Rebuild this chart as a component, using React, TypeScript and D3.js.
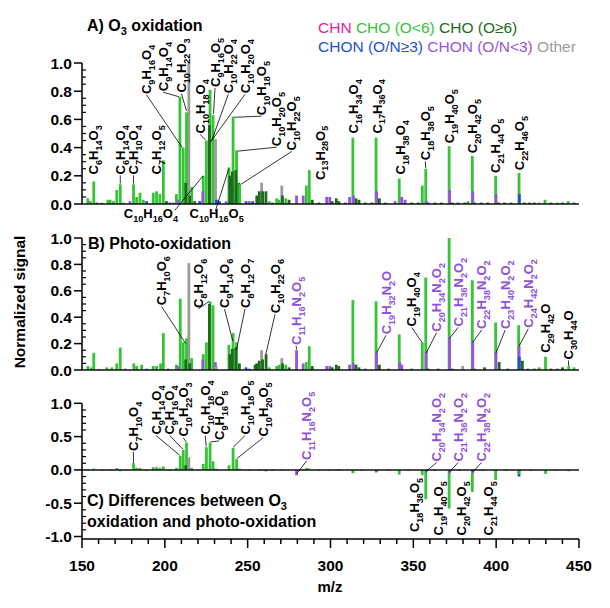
import React, { useEffect, useRef } from 'react';
import * as d3 from 'd3';

type Peak = [number, number, string];
type Label = { f: string; x: number; y: number; to?: [number, number]; from?: [number, number]; c?: string; dir?: string };

const classKeys = ['CHN', 'CHO1', 'CHO2', 'CHON1', 'CHON2', 'Other'];
const classNames = ['CHN', 'CHO (O<6)', 'CHO (O≥6)', 'CHON (O/N≥3)', 'CHON (O/N<3)', 'Other'];
const classColors = ['#e2239a', '#35c435', '#1d6b1d', '#2350d0', '#9a52e0', '#9b9b9b'];

// [m/z, normalized signal, class]
const peaksA: Peak[] = [
  [153.5, 0.04, 'CHO1'], [155, 0.02, 'CHO1'], [157.1, 0.16, 'CHO1'], [159, 0.01, 'CHO2'], [162, 0.008, 'CHON1'],
  [165.7, 0.03, 'CHO1'], [167, 0.03, 'CHO1'], [169, 0.02, 'CHO1'], [171, 0.10, 'CHO1'], [173.1, 0.14, 'CHO1'], [175, 0.01, 'Other'],
  [179, 0.02, 'CHON2'], [181.1, 0.14, 'CHO1'], [183, 0.05, 'CHO1'], [185, 0.08, 'CHO1'], [187, 0.03, 'CHO1'], [189, 0.02, 'CHON1'],
  [193, 0.08, 'CHO1'], [195, 0.09, 'CHO1'], [197, 0.07, 'CHO1'], [199.1, 0.31, 'CHO1'], [201, 0.02, 'CHO2'], [203, 0.01, 'CHON1'],
  [205, 0.01, 'CHON2'], [207, 0.07, 'CHO1'], [208, 0.03, 'CHON2'], [209.1, 0.76, 'CHO1'], [211.1, 0.40, 'CHO1'], [212.6, 0.15, 'CHO2'],
  [213.1, 0.65, 'CHO1'], [214.5, 1.0, 'Other'], [215, 0.06, 'CHO2'], [216.2, 0.12, 'CHO1'], [218, 0.02, 'CHO2'],
  [221, 0.02, 'CHON1'], [222.9, 0.09, 'CHON2'], [223.2, 0.20, 'CHO1'], [225.1, 0.45, 'CHO1'], [226.9, 0.56, 'CHO2'], [227.3, 0.81, 'CHO1'],
  [229.1, 0.63, 'CHO1'], [230.6, 0.46, 'Other'], [231.2, 0.03, 'CHON1'], [233, 0.02, 'CHON1'],
  [237, 0.02, 'CHON2'], [238.7, 0.26, 'CHO1'], [239.2, 0.20, 'CHO2'], [240.7, 0.23, 'CHO2'], [241.2, 0.62, 'CHO1'], [242.8, 0.24, 'CHO2'],
  [243.3, 0.38, 'CHO1'], [244.7, 0.15, 'CHO2'], [245.2, 0.14, 'CHO1'],
  [249, 0.02, 'CHON1'], [251, 0.02, 'CHON2'], [253, 0.02, 'CHON1'],
  [255.5, 0.06, 'CHO2'], [257, 0.09, 'CHO2'], [258.4, 0.15, 'Other'], [259, 0.09, 'CHO2'], [261, 0.09, 'CHO2'], [263, 0.02, 'CHO1'],
  [265, 0.01, 'CHON1'], [267.5, 0.04, 'CHO1'], [269, 0.03, 'CHO1'], [270.6, 0.13, 'Other'], [271, 0.06, 'CHO2'], [273, 0.04, 'CHO1'], [275, 0.03, 'CHO2'],
  [279.5, 0.06, 'CHON2'], [283.5, 0.06, 'CHON2'], [285.4, 0.13, 'CHO1'], [287.2, 0.24, 'CHO1'], [289, 0.03, 'CHO2'],
  [293, 0.01, 'CHO2'], [297.7, 0.05, 'CHON2'], [299.6, 0.05, 'CHON2'], [301, 0.02, 'CHO2'], [303.5, 0.04, 'CHO2'], [305, 0.02, 'CHO2'],
  [309, 0.01, 'CHON1'], [311.5, 0.05, 'CHON2'], [313.5, 0.47, 'CHO1'], [313.8, 0.06, 'CHON2'], [315.4, 0.04, 'CHO2'], [317.2, 0.03, 'CHO2'],
  [321, 0.01, 'CHO2'], [325, 0.01, 'CHO2'], [327.5, 0.47, 'CHO1'], [327.8, 0.09, 'CHON2'], [329.5, 0.04, 'CHO2'], [333, 0.01, 'CHON1'],
  [339, 0.02, 'CHON2'], [341.5, 0.18, 'CHO1'], [343, 0.05, 'CHON2'], [345, 0.03, 'CHON2'], [349, 0.01, 'CHO2'],
  [353, 0.01, 'CHO2'], [355.4, 0.13, 'CHO1'], [357.5, 0.25, 'CHO1'], [357.8, 0.02, 'CHON2'], [359, 0.01, 'CHON1'], [363, 0.01, 'CHO2'],
  [367, 0.01, 'CHO2'], [371.6, 0.41, 'CHO1'], [371.9, 0.10, 'CHON2'], [373.5, 0.01, 'CHO2'], [377, 0.01, 'CHON1'],
  [381, 0.01, 'CHO2'], [383, 0.02, 'CHO1'], [385.6, 0.34, 'CHO1'], [385.9, 0.09, 'CHON2'], [387, 0.01, 'CHO2'], [391, 0.01, 'CHON1'],
  [395, 0.01, 'CHO2'], [399.7, 0.20, 'CHO1'], [399.9, 0.07, 'CHON2'], [401.5, 0.01, 'CHO2'], [405, 0.01, 'CHO2'],
  [409, 0.01, 'CHO2'], [413.8, 0.22, 'CHO1'], [414, 0.07, 'CHON1'], [417, 0.01, 'CHO2'],
  [420, 0.01, 'CHO2'], [423, 0.01, 'CHO2'], [426, 0.01, 'CHO1'], [429.5, 0.03, 'CHO1'], [433, 0.01, 'CHO2'], [437, 0.01, 'CHO1'],
  [440, 0.01, 'CHO2'], [443.5, 0.02, 'CHO1'], [447, 0.01, 'CHO2'],
];

const peaksB: Peak[] = [
  [153.5, 0.03, 'CHO1'], [155.5, 0.02, 'CHO1'], [157.1, 0.13, 'CHO1'], [160, 0.008, 'CHON1'],
  [165, 0.02, 'CHO1'], [168, 0.02, 'CHO1'], [171, 0.05, 'CHO1'], [173.1, 0.17, 'CHO1'], [176, 0.01, 'CHON2'],
  [181.3, 0.05, 'CHO1'], [183, 0.03, 'CHO1'], [186, 0.04, 'CHO1'], [189, 0.01, 'CHON1'],
  [193, 0.03, 'CHO1'], [195, 0.03, 'CHO1'], [197.5, 0.05, 'CHO1'], [199.1, 0.28, 'CHO1'], [202, 0.01, 'CHO2'],
  [207, 0.04, 'CHO1'], [208, 0.03, 'CHON2'], [209.3, 0.54, 'CHO1'], [211.1, 0.21, 'CHO1'], [212.6, 0.08, 'CHO2'], [213.1, 0.24, 'CHO1'],
  [214.5, 0.81, 'Other'], [215, 0.05, 'CHO2'], [216.2, 0.09, 'CHO1'],
  [222.9, 0.08, 'CHON2'], [223.2, 0.12, 'CHO1'], [225.1, 0.21, 'CHO1'], [226.9, 0.50, 'CHO2'], [227.3, 0.52, 'CHO1'], [229.1, 0.49, 'CHO1'],
  [230.5, 0.06, 'CHON2'], [231, 0.03, 'Other'],
  [238.7, 0.19, 'CHO1'], [239.2, 0.12, 'CHO2'], [240.7, 0.16, 'CHO2'], [241.2, 0.28, 'CHO1'], [242.8, 0.17, 'CHO2'], [243.3, 0.21, 'CHO1'], [245, 0.05, 'CHO2'],
  [249, 0.02, 'CHON1'], [251, 0.01, 'CHON2'],
  [254.5, 0.04, 'CHO2'], [255.5, 0.05, 'CHO2'], [257, 0.07, 'CHO2'], [258.4, 0.15, 'Other'], [259, 0.08, 'CHO2'], [261.1, 0.12, 'CHO2'], [263, 0.02, 'CHO1'],
  [267.5, 0.03, 'CHO1'], [269, 0.04, 'CHO1'], [270.6, 0.09, 'Other'], [271, 0.05, 'CHO2'], [273, 0.04, 'CHO1'], [275, 0.02, 'CHO2'],
  [279.5, 0.15, 'CHON2'], [283.5, 0.05, 'CHON2'], [285.4, 0.06, 'CHO1'], [287.2, 0.18, 'CHO1'], [289, 0.03, 'CHO2'],
  [297.7, 0.03, 'CHON2'], [299.6, 0.03, 'CHON2'], [301, 0.02, 'CHO2'], [303.5, 0.04, 'CHO2'], [305, 0.03, 'CHO2'],
  [311.5, 0.04, 'CHON2'], [313.5, 0.53, 'CHO1'], [313.8, 0.05, 'CHON2'], [315.4, 0.04, 'CHO2'], [317.2, 0.02, 'CHO2'], [321, 0.01, 'CHON1'],
  [327.5, 0.52, 'CHO1'], [327.8, 0.13, 'CHON2'], [329.5, 0.04, 'CHO2'], [335, 0.01, 'CHO2'],
  [341.5, 0.27, 'CHO1'], [341.8, 0.06, 'CHON2'], [343, 0.04, 'CHON2'], [349, 0.01, 'CHON1'],
  [355.4, 0.21, 'CHO1'], [357.5, 0.70, 'CHO1'], [357.8, 0.14, 'CHON2'], [359, 0.01, 'CHO2'],
  [365, 0.01, 'CHO2'], [371.6, 1.0, 'CHO1'], [371.9, 0.25, 'CHON2'], [373.5, 0.01, 'CHO2'],
  [379.8, 0.03, 'Other'], [385.6, 0.68, 'CHO1'], [385.9, 0.22, 'CHON2'], [387, 0.01, 'CHO2'],
  [393, 0.02, 'CHO2'], [399.7, 0.36, 'CHO1'], [399.9, 0.14, 'CHON2'], [401.8, 0.06, 'CHO2'], [407, 0.01, 'CHO2'],
  [413.6, 0.34, 'CHO1'], [413.8, 0.18, 'CHON2'], [414, 0.10, 'CHON1'], [415.8, 0.07, 'CHO2'], [419, 0.01, 'CHON1'],
  [423, 0.01, 'CHO2'], [426, 0.02, 'CHO1'], [429.8, 0.10, 'CHO1'], [433, 0.01, 'CHO2'], [437, 0.01, 'CHO2'],
  [440, 0.02, 'CHO2'], [443.8, 0.03, 'CHO1'], [447, 0.02, 'CHO1'],
];

const peaksC: Peak[] = [
  [153.5, 0.01, 'CHO1'], [157.1, 0.02, 'CHO1'], [162, -0.01, 'CHON1'], [167, 0.01, 'CHO1'], [171, 0.03, 'CHO1'], [173.1, -0.02, 'CHO1'],
  [177, 0.01, 'Other'], [181.1, 0.10, 'CHO1'], [183, 0.03, 'CHO1'], [185, 0.03, 'CHO1'], [189, -0.01, 'CHON2'],
  [193, 0.04, 'CHO1'], [195, 0.04, 'CHO1'], [197, 0.03, 'CHO1'], [199.1, 0.05, 'CHO1'], [203, -0.01, 'CHON1'],
  [207, 0.03, 'CHO1'], [209.3, 0.21, 'CHO1'], [211.1, 0.30, 'CHO1'], [212.6, 0.07, 'CHO2'], [213.1, 0.41, 'CHO1'], [214.5, 0.19, 'Other'], [216.2, 0.03, 'CHO1'],
  [223.2, 0.09, 'CHO1'], [225.1, 0.34, 'CHO1'], [227.3, 0.41, 'CHO1'], [229.1, 0.13, 'CHO1'], [231, 0.02, 'Other'],
  [238.7, 0.07, 'CHO1'], [241.2, 0.33, 'CHO1'], [243.3, 0.16, 'CHO1'], [245, 0.02, 'CHO1'],
  [251, -0.01, 'CHON2'], [257, 0.01, 'CHO2'], [261, -0.02, 'CHO2'], [265, -0.01, 'CHON1'], [270.6, 0.01, 'Other'],
  [279.5, -0.08, 'CHON2'], [283.5, 0.01, 'CHON2'], [285.6, 0.03, 'CHO1'], [287.2, 0.02, 'CHO1'], [293, -0.01, 'CHO2'],
  [299, -0.01, 'CHON2'], [305, 0.01, 'CHO2'], [313.5, -0.05, 'CHO1'], [319, -0.01, 'CHON1'], [327.5, -0.04, 'CHO1'], [327.8, -0.03, 'CHON2'],
  [335, 0.01, 'CHO2'], [341.5, -0.07, 'CHO1'], [347, -0.01, 'CHON2'],
  [355.4, -0.08, 'CHO1'], [357.5, -0.44, 'CHO1'], [357.8, -0.04, 'CHON2'], [363, -0.01, 'CHO2'],
  [371.6, -0.58, 'CHO1'], [371.9, -0.05, 'CHON2'], [378, -0.01, 'CHO2'],
  [385.6, -0.33, 'CHO1'], [385.9, -0.05, 'CHON2'], [392, -0.01, 'CHON1'],
  [399.7, -0.15, 'CHO1'], [406, -0.01, 'CHO2'], [413.6, -0.06, 'CHO1'], [413.8, -0.10, 'CHON1'], [421, -0.01, 'CHO2'],
  [429.8, -0.06, 'CHO1'], [436, -0.01, 'CHO2'], [443.8, -0.02, 'CHO1'],
];

const labelsA: Label[] = [
  { f: 'C6H14O3', x: 157, y: 0.21 },
  { f: 'C6H14O4', x: 173.1, y: 0.21, to: [173.1, 0.145] },
  { f: 'C7H10O4', x: 181.1, y: 0.21, to: [181.1, 0.145] },
  { f: 'C7H12O5', x: 195, y: 0.21 },
  { f: 'C9H16O4', x: 189, y: 0.78, to: [210.5, 0.40] },
  { f: 'C9H14O4', x: 199, y: 0.80, to: [208.6, 0.76] },
  { f: 'C10H22O3', x: 210, y: 0.79, to: [213.1, 0.66] },
  { f: 'C10H18O4', x: 221.3, y: 0.50, to: [224.6, 0.455] },
  { f: 'C9H16O5', x: 230.3, y: 0.83, to: [229.4, 0.64] },
  { f: 'C10H22O4', x: 238.3, y: 0.785, to: [228.3, 0.45] },
  { f: 'C10H20O4', x: 248.4, y: 0.785, to: [227.6, 0.44] },
  { f: 'C10H18O5', x: 258.4, y: 0.63, to: [242, 0.615] },
  { f: 'C10H20O5', x: 267.5, y: 0.41, to: [244, 0.375] },
  { f: 'C10H22O5', x: 276.6, y: 0.38, to: [246, 0.14] },
  { f: 'C13H28O5', x: 293.6, y: 0.17 },
  { f: 'C16H34O4', x: 313.7, y: 0.50 },
  { f: 'C17H36O4', x: 328, y: 0.50 },
  { f: 'C18H38O4', x: 342, y: 0.21 },
  { f: 'C18H38O5', x: 357.2, y: 0.31, to: [357.5, 0.255] },
  { f: 'C19H40O5', x: 371.7, y: 0.43 },
  { f: 'C20H42O5', x: 385.8, y: 0.36 },
  { f: 'C21H44O5', x: 399.7, y: 0.22 },
  { f: 'C22H46O5', x: 413.8, y: 0.24 },
  { f: 'C10H16O4', x: 191.6, y: -0.1, dir: 'h', from: [206, -0.045], to: [223.1, 0.2] },
  { f: 'C10H16O5', x: 231.3, y: -0.1, dir: 'h', from: [230.5, -0.05], to: [238.6, 0.25] },
];

const labelsB: Label[] = [
  { f: 'C7H10O6', x: 198, y: 0.49, to: [212.6, 0.2] },
  { f: 'C8H12O6', x: 220.2, y: 0.47, to: [226.6, 0.52] },
  { f: 'C9H14O6', x: 236, y: 0.47, to: [241, 0.22] },
  { f: 'C8H12O7', x: 248.4, y: 0.47, to: [243.2, 0.15] },
  { f: 'C10H22O6', x: 266.5, y: 0.43, to: [261, 0.12] },
  { f: 'C11H16N2O5', x: 279.3, y: 0.19, to: [279.5, 0.155], c: 'p' },
  { f: 'C19H32N2O', x: 333.5, y: 0.27, to: [327.8, 0.13], c: 'p' },
  { f: 'C19H40O4', x: 349, y: 0.33, to: [355.2, 0.21] },
  { f: 'C20H34N2O2', x: 364, y: 0.29, to: [357.8, 0.13], c: 'p' },
  { f: 'C21H36N2O2', x: 377, y: 0.33, to: [371.9, 0.24], c: 'p' },
  { f: 'C22H38N2O2', x: 391.2, y: 0.31, to: [385.9, 0.21], c: 'p' },
  { f: 'C23H40N2O2', x: 405.4, y: 0.31, to: [399.9, 0.13], c: 'p' },
  { f: 'C24H42N2O2', x: 419.4, y: 0.32, to: [413.8, 0.18], c: 'p' },
  { f: 'C29H42O', x: 429.6, y: 0.13 },
  { f: 'C30H44O', x: 443.6, y: 0.08, to: [443.8, 0.03] },
];

const labelsC: Label[] = [
  { f: 'C7H10O4', x: 181, y: 0.285, to: [181.1, 0.10] },
  { f: 'C9H14O4', x: 194.7, y: 0.53, to: [209, 0.22] },
  { f: 'C9H16O4', x: 203, y: 0.53, to: [210.9, 0.31] },
  { f: 'C10H22O3', x: 211, y: 0.50, to: [213, 0.42] },
  { f: 'C10H18O4', x: 224.4, y: 0.53, to: [225, 0.35] },
  { f: 'C9H16O5', x: 232.7, y: 0.45, to: [227.6, 0.42] },
  { f: 'C10H18O5', x: 248.4, y: 0.53, to: [241.2, 0.34] },
  { f: 'C10H20O5', x: 259.4, y: 0.50, to: [243.5, 0.17] },
  { f: 'C11H16N2O5', x: 285.6, y: 0.15, to: [279.5, -0.06], c: 'p' },
  { f: 'C20H34N2O2', x: 364, y: 0.125, to: [357.8, -0.02], c: 'p' },
  { f: 'C21H36N2O2', x: 377, y: 0.125, to: [371.9, -0.03], c: 'p' },
  { f: 'C22H38N2O2', x: 391.2, y: 0.125, to: [385.9, -0.03], c: 'p' },
  { f: 'C18H38O5', x: 350.6, y: -0.12, dir: 'down' },
  { f: 'C19H40O5', x: 365, y: -0.17, dir: 'down' },
  { f: 'C20H42O5', x: 379, y: -0.17, dir: 'down' },
  { f: 'C21H44O5', x: 395.2, y: -0.17, dir: 'down' },
];

const xTicks = [150, 200, 250, 300, 350, 400, 450];
const yTicksAB = [0, 0.2, 0.4, 0.6, 0.8, 1.0];
const yTicksC = [-1, -0.5, 0, 0.5, 1];

const FONT = '"Liberation Sans", Arial, sans-serif';
const PURPLE = '#8f4fd9';

const App = () => {
  const chartRef = useRef<SVGSVGElement>(null);

  useEffect(() => {
    drawChart();
  }, []);

  const drawChart = () => {
    const width = 610;
    const height = 608;
    const svg = d3.select(chartRef.current)
      .attr('width', width)
      .attr('height', height)
      .style('font-family', FONT);
    svg.selectAll('*').remove();

    const x = d3.scaleLinear().domain([150, 450]).range([82, 579]);
    const colorOf = (k: string) => classColors[classKeys.indexOf(k)];

    const panels = [
      { peaks: peaksA, labels: labelsA, y: d3.scaleLinear().domain([0, 1]).range([204, 63]), ticks: yTicksAB, minor: 0.05, bottom: 0 },
      { peaks: peaksB, labels: labelsB, y: d3.scaleLinear().domain([0, 1]).range([370, 238]), ticks: yTicksAB, minor: 0.05, bottom: 0 },
      { peaks: peaksC, labels: labelsC, y: d3.scaleLinear().domain([-1, 1]).range([536.5, 403.3]), ticks: yTicksC, minor: 0.1, bottom: -1.04 },
    ];

    // formula with subscript digits
    const writeFormula = (t: any, f: string, fs: number) => {
      const parts = f.match(/[A-Z][a-z]?|\d+/g) || [];
      let down = false;
      parts.forEach(p => {
        const num = /\d/.test(p);
        const s = t.append('tspan').text(p);
        if (num) {
          s.attr('font-size', fs * 0.7);
          if (!down) { s.attr('dy', fs * 0.3); down = true; }
        } else if (down) {
          s.attr('dy', -fs * 0.3);
          down = false;
        }
      });
    };

    const fs = 13;

    panels.forEach(p => {
      const g = svg.append('g');
      const y = p.y;

      // sticks, tallest first so the small ones stay visible
      const sorted = [...p.peaks].sort((a, b) => Math.abs(b[1]) - Math.abs(a[1]));
      g.append('g')
        .selectAll('rect')
        .data(sorted)
        .join('rect')
        .attr('x', d => x(d[0]) - 1.4)
        .attr('width', 2.8)
        .attr('y', d => Math.min(y(d[1]), y(0)))
        .attr('height', d => Math.max(0.8, Math.abs(y(d[1]) - y(0))))
        .attr('fill', d => colorOf(d[2]));

      // zero line
      g.append('line')
        .attr('x1', x(150)).attr('x2', x(450))
        .attr('y1', y(0)).attr('y2', y(0))
        .attr('stroke', '#111').attr('stroke-width', 1.5);

      // y axis
      const yBottom = y(p.bottom);
      g.append('line')
        .attr('x1', x(150)).attr('x2', x(150))
        .attr('y1', y(1)).attr('y2', yBottom)
        .attr('stroke', '#000').attr('stroke-width', 1.5);
      const lo = d3.min(p.ticks) as number;
      const minors = d3.range(lo, 1.0001, p.minor).filter(v => !p.ticks.some(t => Math.abs(t - v) < 1e-6));
      g.append('g').selectAll('line').data(minors).join('line')
        .attr('x1', x(150)).attr('x2', x(150) + 4)
        .attr('y1', d => y(d)).attr('y2', d => y(d))
        .attr('stroke', '#000').attr('stroke-width', 1.2);
      g.append('g').selectAll('line').data(p.ticks).join('line')
        .attr('x1', x(150) - 8).attr('x2', x(150))
        .attr('y1', d => y(d)).attr('y2', d => y(d))
        .attr('stroke', '#000').attr('stroke-width', 1.5);
      g.append('g').selectAll('text').data(p.ticks).join('text')
        .attr('x', x(150) - 10)
        .attr('y', d => y(d))
        .attr('dy', '0.36em')
        .attr('text-anchor', 'end')
        .attr('font-size', 15.5)
        .attr('font-weight', 'bold')
        .text(d => d.toFixed(1));

      // labels
      const lg = g.append('g').attr('font-size', fs).attr('font-weight', 'bold');
      p.labels.forEach(l => {
        const col = l.c === 'p' ? PURPLE : '#000';
        if (l.to) {
          const from = l.from || [l.x, l.y];
          lg.append('line')
            .attr('x1', x(from[0])).attr('y1', y(from[1]) + (l.from ? 0 : 1))
            .attr('x2', x(l.to[0])).attr('y2', y(l.to[1]))
            .attr('stroke', '#000').attr('stroke-width', 0.8);
        }
        const t = lg.append('text').attr('fill', col);
        if (l.dir === 'h') {
          t.attr('x', x(l.x)).attr('y', y(l.y)).attr('text-anchor', 'middle');
        } else {
          t.attr('transform', `translate(${x(l.x) + fs * 0.36},${y(l.y)}) rotate(-90)`)
            .attr('text-anchor', l.dir === 'down' ? 'end' : 'start');
        }
        writeFormula(t, l.f, fs);
      });
    });

    // bottom x axis
    const yAxis = 539;
    const xa = svg.append('g');
    xa.append('line')
      .attr('x1', x(150)).attr('x2', x(450))
      .attr('y1', yAxis).attr('y2', yAxis)
      .attr('stroke', '#000').attr('stroke-width', 1.5);
    xa.append('g').selectAll('line').data(d3.range(150, 451, 10)).join('line')
      .attr('x1', d => x(d)).attr('x2', d => x(d))
      .attr('y1', yAxis).attr('y2', d => yAxis + (d % 50 === 0 ? 9 : 5))
      .attr('stroke', '#000').attr('stroke-width', 1.5);
    xa.append('g').selectAll('text').data(xTicks).join('text')
      .attr('x', d => x(d)).attr('y', 571)
      .attr('text-anchor', 'middle')
      .attr('font-size', 15.5).attr('font-weight', 'bold')
      .text(d => d);
    xa.append('text')
      .attr('x', 330).attr('y', 592)
      .attr('text-anchor', 'middle')
      .attr('font-size', 15).attr('font-weight', 'bold')
      .text('m/z');

    svg.append('text')
      .attr('transform', 'translate(25,302) rotate(-90)')
      .attr('text-anchor', 'middle')
      .attr('font-size', 15.5).attr('font-weight', 'bold')
      .text('Normalized signal');

    // panel titles
    const title = (tx: number, ty: number, parts: [string, boolean][]) => {
      const t = svg.append('text').attr('x', tx).attr('y', ty)
        .attr('font-size', 16).attr('font-weight', 'bold');
      let down = false;
      parts.forEach(([s, sub]) => {
        const sp = t.append('tspan').text(s);
        if (sub) { sp.attr('font-size', 11).attr('dy', 4); down = true; }
        else if (down) { sp.attr('dy', -4); down = false; }
      });
    };
    title(87, 31, [['A) O', false], ['3', true], [' oxidation', false]]);
    title(88, 249, [['B) Photo-oxidation', false]]);
    title(87, 506, [['C) Differences between O', false], ['3', true]]);
    title(87, 527, [['oxidation and photo-oxidation', false]]);

    // legend
    const leg = svg.append('g').attr('font-size', 15.5);
    const rows = [[0, 1, 2], [3, 4, 5]];
    rows.forEach((r, ri) => {
      const t = leg.append('text').attr('x', 318).attr('y', 33 + ri * 18.5);
      r.forEach((ci, j) => {
        t.append('tspan').attr('fill', classColors[ci]).text(classNames[ci] + (j < r.length - 1 ? ' ' : ''));
      });
    });
  };

  return (
    <div style={{ position: 'absolute', left: 0, top: 0, background: '#fff' }}>
      <svg ref={chartRef}></svg>
    </div>
  );
};

export default App;
